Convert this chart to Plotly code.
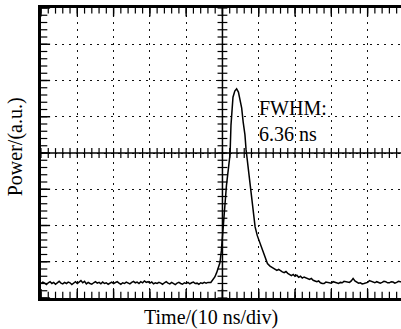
import numpy as np
import plotly.graph_objects as go

# ---- data: time (ns) and power (screen divisions, a.u.) ----
# pre-pulse baseline, sampled every 0.5 ns from 0 to 46 ns
time_pre = [i * 0.5 for i in range(93)]
power_pre = [0.40, 0.44, 0.41, 0.37, 0.42, 0.45, 0.40, 0.43, 0.38, 0.42,
             0.46, 0.41, 0.39, 0.43, 0.40, 0.44, 0.42, 0.37, 0.41, 0.45,
             0.40, 0.43, 0.48, 0.42, 0.46, 0.39, 0.43, 0.40, 0.38, 0.42,
             0.45, 0.41, 0.43, 0.39, 0.44, 0.40, 0.42, 0.38, 0.41, 0.44,
             0.40, 0.43, 0.45, 0.41, 0.38, 0.42, 0.40, 0.44, 0.41, 0.39,
             0.43, 0.46, 0.42, 0.44, 0.40, 0.45, 0.42, 0.47, 0.43, 0.45,
             0.41, 0.44, 0.39, 0.42, 0.40, 0.43, 0.41, 0.38, 0.42, 0.45,
             0.41, 0.39, 0.43, 0.40, 0.37, 0.41, 0.43, 0.40, 0.38, 0.42,
             0.40, 0.43, 0.39, 0.42, 0.44, 0.40, 0.41, 0.38, 0.42, 0.40,
             0.43, 0.41, 0.43]
# the pulse
time_pulse = [46.8, 47.4, 47.9, 48.4, 48.9, 49.3, 49.7, 50.0, 50.4, 50.7,
              51.1, 51.5, 52.1, 52.35, 52.6, 52.9, 53.4, 53.9, 54.4, 54.8,
              55.3, 55.7, 56.2, 56.5, 56.9, 57.3, 57.7, 58.1, 58.5, 59.0,
              59.6, 60.3, 61.0, 61.7, 62.4, 63.1]
power_pulse = [0.43, 0.50, 0.58, 0.70, 0.84, 0.97, 1.30, 1.70, 2.25, 2.70,
               3.10, 3.45, 3.97, 4.77, 5.24, 5.54, 5.71, 5.77, 5.68, 5.46,
               5.24, 4.86, 4.50, 4.10, 3.75, 3.45, 3.08, 2.70, 2.32, 1.96,
               1.72, 1.52, 1.30, 1.10, 0.95, 0.88]
# tail, sampled every 0.5 ns from 64 to 99 ns, plus the screen edge
time_tail = [64 + i * 0.5 for i in range(71)] + [99.2]
power_tail = [0.82, 0.80, 0.76, 0.79, 0.75, 0.72, 0.70, 0.73, 0.68, 0.66,
              0.62, 0.65, 0.60, 0.63, 0.57, 0.60, 0.55, 0.58, 0.56, 0.52,
              0.51, 0.54, 0.49, 0.47, 0.45, 0.47, 0.42, 0.40, 0.40, 0.44,
              0.43, 0.41, 0.41, 0.45, 0.44, 0.41, 0.40, 0.43, 0.42, 0.46,
              0.45, 0.42, 0.43, 0.47, 0.54, 0.47, 0.44, 0.41, 0.42, 0.39,
              0.40, 0.42, 0.43, 0.48, 0.46, 0.43, 0.42, 0.45, 0.44, 0.41,
              0.43, 0.46, 0.45, 0.42, 0.42, 0.45, 0.44, 0.41, 0.43, 0.46,
              0.45, 0.44]

time_ns = time_pre + time_pulse + time_tail
power = power_pre + power_pulse + power_tail

x_range = [0, 99.2]
y_range = [0, 8]
x_div = 10
y_div = 1
x_center = 50
y_center = 4

FONT = "Liberation Serif"
BLACK = "black"

x_fine = np.arange(0, 100.01, x_div / 5)
y_fine = np.arange(0, 8.01, y_div / 5)
x_major = np.arange(0, 100.01, x_div)
y_major = np.arange(0, 8.01, y_div)

fig = go.Figure()


def tick_marks(xs, ys, symbol, size, width=1.2):
    fig.add_trace(go.Scatter(x=list(xs), y=list(ys), mode="markers", cliponaxis=True,
                             marker=dict(symbol=symbol, size=size, color=BLACK,
                                         line=dict(color=BLACK, width=width)),
                             hoverinfo="skip", showlegend=False))


# graticule ticks along the frame (inside) and the centre cross-hair
tick_marks(x_fine, [y_range[0]] * len(x_fine), "line-ns", 9)
tick_marks(x_major, [y_range[0]] * len(x_major), "line-ns", 13, 1.4)
tick_marks(x_fine, [y_range[1]] * len(x_fine), "line-ns", 8)
tick_marks(x_major, [y_range[1]] * len(x_major), "line-ns", 12, 1.4)
tick_marks([x_range[0]] * len(y_fine), y_fine, "line-ew", 9)
tick_marks([x_range[0]] * len(y_major), y_major, "line-ew", 13, 1.4)
tick_marks(x_fine, [y_center] * len(x_fine), "line-ns", 7)
tick_marks([x_center] * len(y_fine), y_fine, "line-ew", 7)

# waveform
fig.add_trace(go.Scatter(x=time_ns, y=power, mode="lines",
                         line=dict(color=BLACK, width=1.5),
                         hoverinfo="skip", showlegend=False))

dot = "2px,5px"
fig.update_layout(
    width=401, height=329,
    margin=dict(l=41, r=0, t=8, b=31),
    paper_bgcolor="white", plot_bgcolor="white",
    xaxis=dict(range=x_range, dtick=x_div, tick0=0, showticklabels=False, zeroline=False,
               showgrid=True, gridcolor="#111", gridwidth=1.3, griddash=dot,
               showline=True, linecolor=BLACK, linewidth=2.5, mirror=True, ticks=""),
    yaxis=dict(range=y_range, dtick=y_div, tick0=0, showticklabels=False, zeroline=False,
               showgrid=True, gridcolor="#111", gridwidth=1.3, griddash=dot,
               showline=True, linecolor=BLACK, linewidth=2.5, mirror=False, ticks=""),
    shapes=[
        dict(type="line", xref="x", yref="y", x0=x_range[0], x1=x_range[1], y0=y_center, y1=y_center,
             line=dict(color=BLACK, width=1.5), layer="above"),
        dict(type="line", xref="x", yref="y", x0=x_center, x1=x_center, y0=y_range[0], y1=y_range[1],
             line=dict(color=BLACK, width=1.5), layer="above"),
    ],
    font=dict(family=FONT, size=20, color=BLACK),
    annotations=[
        dict(text="FWHM:<br>6.36 ns", x=59.6, y=5.6, xref="x", yref="y",
             xanchor="left", yanchor="top", align="left", showarrow=False,
             font=dict(family=FONT, size=20, color=BLACK)),
        dict(text="Time/(10 ns/div)", x=0.472, y=-0.068, xref="paper", yref="paper",
             xanchor="center", yanchor="middle", showarrow=False,
             font=dict(family=FONT, size=20, color=BLACK)),
        dict(text="Power/(a.u.)", x=-0.072, y=0.52, xref="paper", yref="paper",
             xanchor="center", yanchor="middle", textangle=-90, showarrow=False,
             font=dict(family=FONT, size=20, color=BLACK)),
    ],
)

fig.write_html("out.html")
